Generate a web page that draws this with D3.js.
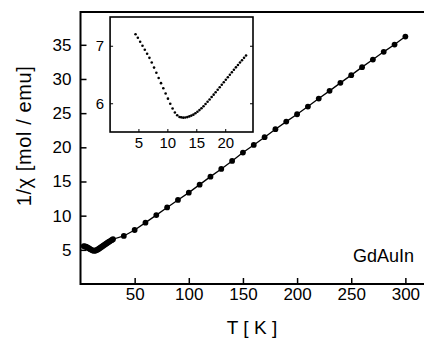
<html>
<head>
<script src="https://d3js.org/d3.v7.min.js"></script>
<style>
  body { margin: 0; background: #fff; }
  text { font-family: "Liberation Sans", Arial, sans-serif; fill: #000; }
  .axis path, .axis line { stroke: #000; }
</style>
</head>
<body>
<svg id="chart" width="424" height="340"></svg>
<script>
// main curve, 1/chi vs T
const mainT = [3, 4, 5, 6, 7, 8, 9, 10, 11, 12, 13, 14, 15, 16, 17, 18, 19, 20, 21, 22, 23, 24, 25, 26, 27, 28, 29, 30,
  40, 50, 60, 70, 80, 90, 100, 110, 120, 130, 140, 150, 160, 170, 180, 190, 200,
  210, 220, 230, 240, 250, 260, 270, 280, 290, 300];
const mainV = [5.55, 5.5, 5.45, 5.38, 5.3, 5.2, 5.1, 5.0, 4.93, 4.88, 4.87, 4.9, 4.97, 5.06, 5.16, 5.27, 5.38, 5.5,
  5.61, 5.72, 5.83, 5.94, 6.05, 6.15, 6.25, 6.35, 6.45, 6.55,
  7.03, 7.9, 8.98, 10.08, 11.2, 12.3, 13.37, 14.54, 15.71, 16.84, 18.01, 19.23, 20.35, 21.48, 22.65, 23.76, 24.84,
  25.96, 27.13, 28.26, 29.43, 30.56, 31.73, 32.84, 33.97, 35.04, 36.21];

// inset, low temperature detail
const insetT = [4.5, 4.9, 5.3, 5.7, 6.1, 6.5, 6.9, 7.3, 7.7, 8.1, 8.5, 8.9, 9.3, 9.7, 10.1, 10.5, 10.9, 11.3, 11.7, 12.1,
  12.4, 12.75, 13.1, 13.45, 13.8, 14.15, 14.5, 14.85, 15.2, 15.55, 15.9, 16.25, 16.6, 16.95, 17.3, 17.65, 18.0,
  18.35, 18.7, 19.05, 19.4, 19.75, 20.1, 20.45, 20.8, 21.15, 21.5, 21.85, 22.2, 22.55, 22.9, 23.25, 23.6];
const insetV = [7.2, 7.14, 7.07, 7.0, 6.93, 6.86, 6.79, 6.71, 6.62, 6.53, 6.44, 6.35, 6.26, 6.17, 6.08, 5.99, 5.91, 5.84, 5.79, 5.76,
  5.755, 5.75, 5.752, 5.759, 5.771, 5.785, 5.802, 5.825, 5.851, 5.881, 5.914, 5.949, 5.987, 6.026, 6.066, 6.108, 6.15,
  6.192, 6.235, 6.279, 6.322, 6.365, 6.409, 6.452, 6.496, 6.539, 6.582, 6.624, 6.666, 6.708, 6.749, 6.79, 6.83];

const xTicks = [50, 100, 150, 200, 250, 300];
const yTicks = [5, 10, 15, 20, 25, 30, 35];
const insetXTicks = [5, 10, 15, 20];
const insetYTicks = [6, 7];

const svg = d3.select("#chart");

const x = d3.scaleLinear().domain([0, 317.2]).range([80.5, 424]);
const y = d3.scaleLinear().domain([0, 39.8]).range([284, 12]);

// frame: left, top, bottom
svg.append("path")
  .attr("d", `M430,${y(39.8)}H${x(0)}V${y(0)}H430`)
  .attr("fill", "none").attr("stroke", "#000").attr("stroke-width", 2);

const gx = svg.append("g").attr("class", "axis")
  .attr("transform", `translate(0,${y(0)})`)
  .call(d3.axisBottom(x).tickValues(xTicks).tickSize(-6).tickSizeOuter(0).tickPadding(4));
gx.select(".domain").remove();
gx.selectAll("line").attr("stroke-width", 1.5);
gx.selectAll("text").attr("font-size", 17);

const gy = svg.append("g").attr("class", "axis")
  .attr("transform", `translate(${x(0)},0)`)
  .call(d3.axisLeft(y).tickValues(yTicks).tickSize(-6).tickSizeOuter(0).tickPadding(9));
gy.select(".domain").remove();
gy.selectAll("line").attr("stroke-width", 1.5);
gy.selectAll("text").attr("font-size", 17);

const mainData = mainT.map((t, i) => ({t: t, v: mainV[i]}));
svg.append("path")
  .datum(mainData)
  .attr("fill", "none").attr("stroke", "#000").attr("stroke-width", 1.3)
  .attr("d", d3.line().x(d => x(d.t)).y(d => y(d.v)));
svg.append("g").selectAll("circle")
  .data(mainData).join("circle")
  .attr("cx", d => x(d.t)).attr("cy", d => y(d.v)).attr("r", 2.9).attr("fill", "#000");

svg.append("text")
  .attr("x", 252).attr("y", 334).attr("text-anchor", "middle").attr("font-size", 19)
  .text("T [ K ]");
svg.append("text")
  .attr("transform", "translate(31,136) rotate(-90)").attr("text-anchor", "middle").attr("font-size", 20)
  .attr("letter-spacing", 0.6)
  .text("1/\u03c7 [mol / emu]");
svg.append("text")
  .attr("x", 414).attr("y", 262).attr("text-anchor", "end").attr("font-size", 18)
  .text("GdAuIn");

// inset
const ix = d3.scaleLinear().domain([0, 24.8]).range([109.5, 253]);
const iy = d3.scaleLinear().domain([5.5, 7.5]).range([132, 17]);

svg.append("rect")
  .attr("x", ix(0.1)).attr("y", iy(7.5)).attr("width", ix(24.8) - ix(0.1)).attr("height", iy(5.5) - iy(7.5))
  .attr("fill", "#fff").attr("stroke", "#000").attr("stroke-width", 1.6);

const igx = svg.append("g").attr("class", "axis")
  .attr("transform", `translate(0,${iy(5.5)})`)
  .call(d3.axisBottom(ix).tickValues(insetXTicks).tickSize(-3).tickSizeOuter(0).tickPadding(5));
igx.select(".domain").remove();
igx.selectAll("text").attr("font-size", 15);

const igy = svg.append("g").attr("class", "axis")
  .attr("transform", `translate(${ix(0.1)},0)`)
  .call(d3.axisLeft(iy).tickValues(insetYTicks).tickSize(-3).tickSizeOuter(0).tickPadding(6)
    .tickFormat(d3.format("d")));
igy.select(".domain").remove();
igy.selectAll("text").attr("font-size", 15);

const igr = svg.append("g").attr("class", "axis")
  .attr("transform", `translate(${ix(24.8)},0)`)
  .call(d3.axisRight(iy).tickValues(insetYTicks).tickSize(-3).tickSizeOuter(0).tickFormat(""));
igr.select(".domain").remove();

const insetData = insetT.map((t, i) => ({t: t, v: insetV[i]}));
svg.append("g").selectAll("circle")
  .data(insetData).join("circle")
  .attr("cx", d => ix(d.t)).attr("cy", d => iy(d.v)).attr("r", 1.3).attr("fill", "#000");
</script>
</body>
</html>
